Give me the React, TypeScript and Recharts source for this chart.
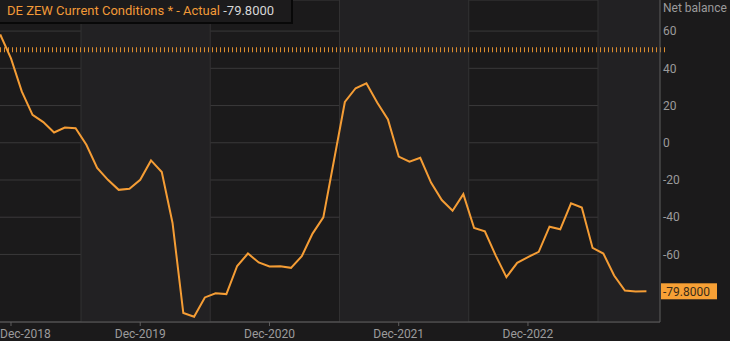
import {
  ComposedChart,
  Line,
  XAxis,
  YAxis,
  CartesianGrid,
  ReferenceArea,
  ReferenceLine,
} from 'recharts';

// Monthly readings, Nov-2018 .. Nov-2023
const months = [
  'Nov-2018', 'Dec-2018',
  'Jan-2019', 'Feb-2019', 'Mar-2019', 'Apr-2019', 'May-2019', 'Jun-2019',
  'Jul-2019', 'Aug-2019', 'Sep-2019', 'Oct-2019', 'Nov-2019', 'Dec-2019',
  'Jan-2020', 'Feb-2020', 'Mar-2020', 'Apr-2020', 'May-2020', 'Jun-2020',
  'Jul-2020', 'Aug-2020', 'Sep-2020', 'Oct-2020', 'Nov-2020', 'Dec-2020',
  'Jan-2021', 'Feb-2021', 'Mar-2021', 'Apr-2021', 'May-2021', 'Jun-2021',
  'Jul-2021', 'Aug-2021', 'Sep-2021', 'Oct-2021', 'Nov-2021', 'Dec-2021',
  'Jan-2022', 'Feb-2022', 'Mar-2022', 'Apr-2022', 'May-2022', 'Jun-2022',
  'Jul-2022', 'Aug-2022', 'Sep-2022', 'Oct-2022', 'Nov-2022', 'Dec-2022',
  'Jan-2023', 'Feb-2023', 'Mar-2023', 'Apr-2023', 'May-2023', 'Jun-2023',
  'Jul-2023', 'Aug-2023', 'Sep-2023', 'Oct-2023', 'Nov-2023',
];

const actual = [
  58.2, 45.3,
  27.6, 15.0, 11.1, 5.5, 8.2, 7.8, -1.1, -13.5, -19.9, -25.3, -24.7, -19.9,
  -9.5, -15.7, -43.1, -91.5, -93.5, -83.1, -80.9, -81.3, -66.2, -59.5, -64.3, -66.5,
  -66.4, -67.2, -61.0, -48.8, -40.1, -9.1, 21.9, 29.3, 31.9, 21.6, 12.5, -7.4,
  -10.2, -8.1, -21.4, -30.8, -36.5, -27.6, -45.8, -47.6, -60.5, -72.2, -64.5, -61.4,
  -58.6, -45.1, -46.5, -32.5, -34.8, -56.5, -59.5, -71.3, -79.4, -79.9, -79.8,
];

const tickLabels = ['Dec-2018', 'Dec-2019', 'Dec-2020', 'Dec-2021', 'Dec-2022'];
const yTicks = [-60, -40, -20, 0, 20, 40, 60];
const dottedLevel = 50;

// alternating year shading, in month-index units
const shadedBands: [number, number][] = [
  [7.5, 19.5],
  [31.5, 43.5],
  [55.5, 61.26],
];
const bandEdges = [7.5, 19.5, 31.5, 43.5, 55.5];

const data = months.map((m, i) => ({ idx: i, month: m, value: actual[i] }));
const xTicks = tickLabels.map((l) => months.indexOf(l));
const lastValue = actual[actual.length - 1];

const FONT = 'Roboto, "Noto Sans", sans-serif';
const LINE = '#f59d35';
const MUTED = '#9b9b9b';

function XTick(props: any) {
  const { x, y, payload } = props;
  const label = months[payload.value];
  const clipLeft = x - 27 < 0;
  return (
    <text
      x={clipLeft ? 0 : x}
      y={y + 10}
      textAnchor={clipLeft ? 'start' : 'middle'}
      fill={MUTED}
      fontSize={12}
      fontFamily={FONT}
    >
      {label}
    </text>
  );
}

function EndLabel(props: any) {
  const { viewBox } = props;
  const x = viewBox.x + viewBox.width;
  const y = viewBox.y;
  return (
    <g>
      <rect x={x + 1} y={y - 8} width={56} height={16} fill="#f7a035" />
      <text x={x + 3} y={y + 4.5} fill="#3a2c18" fontSize={12} fontFamily={FONT}>
        {lastValue.toFixed(4)}
      </text>
    </g>
  );
}

// short vertical orange dashes along the level line
function DottedShape(props: any) {
  const { x1, y1, x2, y2 } = props;
  return (
    <line
      x1={x1 + 5}
      y1={y1}
      x2={x2 - 3}
      y2={y2}
      stroke="#dc8c2e"
      strokeWidth={5}
      strokeDasharray="1 3"
    />
  );
}

export default function App() {
  return (
    <div
      style={{
        position: 'fixed',
        left: 0,
        top: 0,
        width: 730,
        height: 341,
        background: '#1b1a1b',
        overflow: 'hidden',
        fontFamily: FONT,
      }}
    >
      <ComposedChart
        width={730}
        height={341}
        data={data}
        margin={{ top: 0, right: 0, left: 0, bottom: 0 }}
      >
        {shadedBands.map(([a, b]) => (
          <ReferenceArea
            key={a}
            x1={a}
            x2={b}
            fill="#222123"
            fillOpacity={1}
            stroke="none"
            ifOverflow="hidden"
          />
        ))}
        <CartesianGrid vertical={false} stroke="#3a393a" />
        {bandEdges.map((e) => (
          <ReferenceLine key={e} x={e} stroke="#333233" />
        ))}
        <XAxis
          type="number"
          dataKey="idx"
          domain={[-0.02, 61.26]}
          allowDataOverflow
          ticks={xTicks}
          tick={<XTick />}
          height={19}
          tickSize={4}
          axisLine={{ stroke: '#5f5e5f' }}
          tickLine={{ stroke: '#5f5e5f' }}
        />
        <YAxis
          orientation="right"
          width={70}
          domain={[-96.3, 76.7]}
          allowDataOverflow
          ticks={yTicks}
          tickSize={0}
          tickMargin={3}
          tickLine={false}
          axisLine={{ stroke: '#5f5e5f' }}
          tick={{ fill: MUTED, fontSize: 12, fontFamily: FONT, textAnchor: 'start' }}
        />
        <ReferenceLine y={dottedLevel} shape={DottedShape} />
        <Line
          type="linear"
          dataKey="value"
          stroke={LINE}
          strokeWidth={2}
          dot={false}
          isAnimationActive={false}
        />
        <ReferenceLine
          y={lastValue}
          stroke="none"
          ifOverflow="visible"
          label={{ content: EndLabel }}
        />
      </ComposedChart>

      <div
        style={{
          position: 'absolute',
          left: 663,
          top: 1,
          fontSize: 12,
          lineHeight: '15px',
          color: MUTED,
        }}
      >
        Net balance
      </div>

      <div
        style={{
          position: 'absolute',
          left: 0,
          top: 0,
          width: 293,
          height: 24,
          boxSizing: 'border-box',
          background: '#1c1b1c',
          border: '2px solid #080808',
          borderLeft: 'none',
          borderTop: 'none',
          paddingLeft: 7,
          fontSize: 13,
          lineHeight: '22px',
          whiteSpace: 'nowrap',
        }}
      >
        <span style={{ color: '#f29a38' }}>DE ZEW Current Conditions * - Actual</span>
        <span style={{ color: '#d6d6d6' }}> -79.8000</span>
      </div>
    </div>
  );
}
